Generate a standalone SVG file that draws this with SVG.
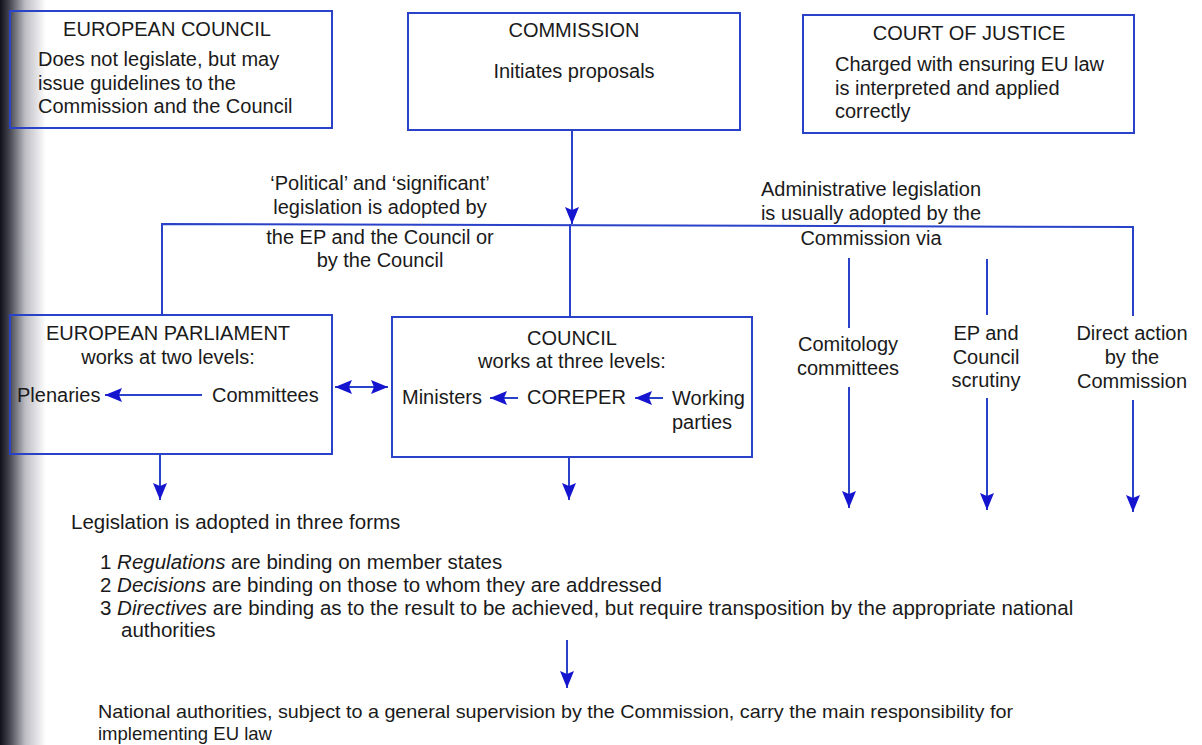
<svg xmlns="http://www.w3.org/2000/svg" width="1202" height="745" viewBox="0 0 1202 745">
<style>
text{font-family:"Liberation Sans",Arial,Helvetica,sans-serif;font-size:20px;fill:#1a1a1a}
.c{text-anchor:middle}
.box{fill:none;stroke:#2a42c8;stroke-width:2}
.ln{fill:none;stroke:#2a42c8;stroke-width:2}
.arr{marker-end:url(#ah)}
.big{font-size:20.5px}
.nat{font-size:18.5px}
</style>
<defs>
<marker id="ah" markerUnits="userSpaceOnUse" markerWidth="20" markerHeight="16" refX="17" refY="7" orient="auto-start-reverse">
<path d="M0,0 L17,7 L0,14 L3,7 z" fill="#1515d0"/>
</marker>
<linearGradient id="gutter" x1="0" y1="0" x2="1" y2="0">
<stop offset="0" stop-color="#101018"/>
<stop offset="0.22" stop-color="#4a4a54"/>
<stop offset="0.55" stop-color="#bdbdc4"/>
<stop offset="1" stop-color="#ffffff"/>
</linearGradient>
</defs>
<rect x="0" y="0" width="1202" height="745" fill="#ffffff"/>
<rect x="0" y="0" width="46" height="745" fill="url(#gutter)"/>

<g id="connectors">
<path class="ln arr" d="M572,130 V224"/>
<path class="ln" d="M162,315 V224 L1133,227 V316"/>
<path class="ln" d="M570,224 V317"/>
<path class="ln arr" d="M202,395 H105"/>
<path class="ln" d="M335,387 H388" marker-start="url(#ah)" marker-end="url(#ah)"/>
<path class="ln arr" d="M518,398 H490"/>
<path class="ln arr" d="M663,398 H635"/>
<path class="ln arr" d="M160,454 V500"/>
<path class="ln arr" d="M569,457 V500"/>
<path class="ln" d="M849,258 V328"/>
<path class="ln arr" d="M849,387 V508"/>
<path class="ln" d="M987,259 V315"/>
<path class="ln arr" d="M987,398 V510"/>
<path class="ln arr" d="M1133,400 V512"/>
<path class="ln arr" d="M567,640 V688"/>
</g>

<g id="european-council">
<rect class="box" x="10" y="11" width="322" height="117"/>
<text class="c" x="167" y="36">EUROPEAN COUNCIL</text>
<text x="38" y="66">Does not legislate, but may</text>
<text x="38" y="90">issue guidelines to the</text>
<text x="38" y="113">Commission and the Council</text>
</g>

<g id="commission">
<rect class="box" x="408" y="13" width="332" height="117"/>
<text class="c" x="574" y="37">COMMISSION</text>
<text class="c" x="574" y="78">Initiates proposals</text>
</g>

<g id="court-of-justice">
<rect class="box" x="803" y="15" width="331" height="118"/>
<text class="c" x="969" y="40">COURT OF JUSTICE</text>
<text x="835" y="71">Charged with ensuring EU law</text>
<text x="835" y="95">is interpreted and applied</text>
<text x="835" y="118">correctly</text>
</g>

<g id="political-label">
<text class="c" x="380" y="190">‘Political’ and ‘significant’</text>
<text class="c" x="380" y="214">legislation is adopted by</text>
<text class="c" x="380" y="244">the EP and the Council or</text>
<text class="c" x="380" y="267">by the Council</text>
</g>

<g id="administrative-label">
<text class="c" x="871" y="196">Administrative legislation</text>
<text class="c" x="871" y="220">is usually adopted by the</text>
<text class="c" x="871" y="245">Commission via</text>
</g>

<g id="european-parliament">
<rect class="box" x="10" y="315" width="322" height="139"/>
<text class="c" x="168" y="340">EUROPEAN PARLIAMENT</text>
<text class="c" x="168" y="364">works at two levels:</text>
<text x="17" y="402">Plenaries</text>
<text x="212" y="402">Committees</text>
</g>

<g id="council">
<rect class="box" x="392" y="317" width="360" height="140"/>
<text class="c" x="572" y="345">COUNCIL</text>
<text class="c" x="572" y="368">works at three levels:</text>
<text x="402" y="404">Ministers</text>
<text x="527" y="404">COREPER</text>
<text x="672" y="405">Working</text>
<text x="672" y="429">parties</text>
</g>

<g id="comitology">
<text class="c" x="848" y="351">Comitology</text>
<text class="c" x="848" y="375">committees</text>
</g>

<g id="ep-council-scrutiny">
<text class="c" x="986" y="340">EP and</text>
<text class="c" x="986" y="364">Council</text>
<text class="c" x="986" y="387">scrutiny</text>
</g>

<g id="direct-action">
<text class="c" x="1132" y="340">Direct action</text>
<text class="c" x="1132" y="364">by the</text>
<text class="c" x="1132" y="388">Commission</text>
</g>

<g id="legislation-forms">
<text class="big" x="71" y="529">Legislation is adopted in three forms</text>
<text class="big" x="100" y="569">1 <tspan font-style="italic">Regulations</tspan> are binding on member states</text>
<text class="big" x="100" y="592">2 <tspan font-style="italic">Decisions</tspan> are binding on those to whom they are addressed</text>
<text class="big" x="100" y="615">3 <tspan font-style="italic">Directives</tspan> are binding as to the result to be achieved, but require transposition by the appropriate national</text>
<text class="big" x="121" y="637">authorities</text>
</g>

<g id="national-authorities">
<text class="nat" x="98" y="718" textLength="915" lengthAdjust="spacingAndGlyphs">National authorities, subject to a general supervision by the Commission, carry the main responsibility for</text>
<text class="nat" x="98" y="740" textLength="174" lengthAdjust="spacingAndGlyphs">implementing EU law</text>
</g>
</svg>
